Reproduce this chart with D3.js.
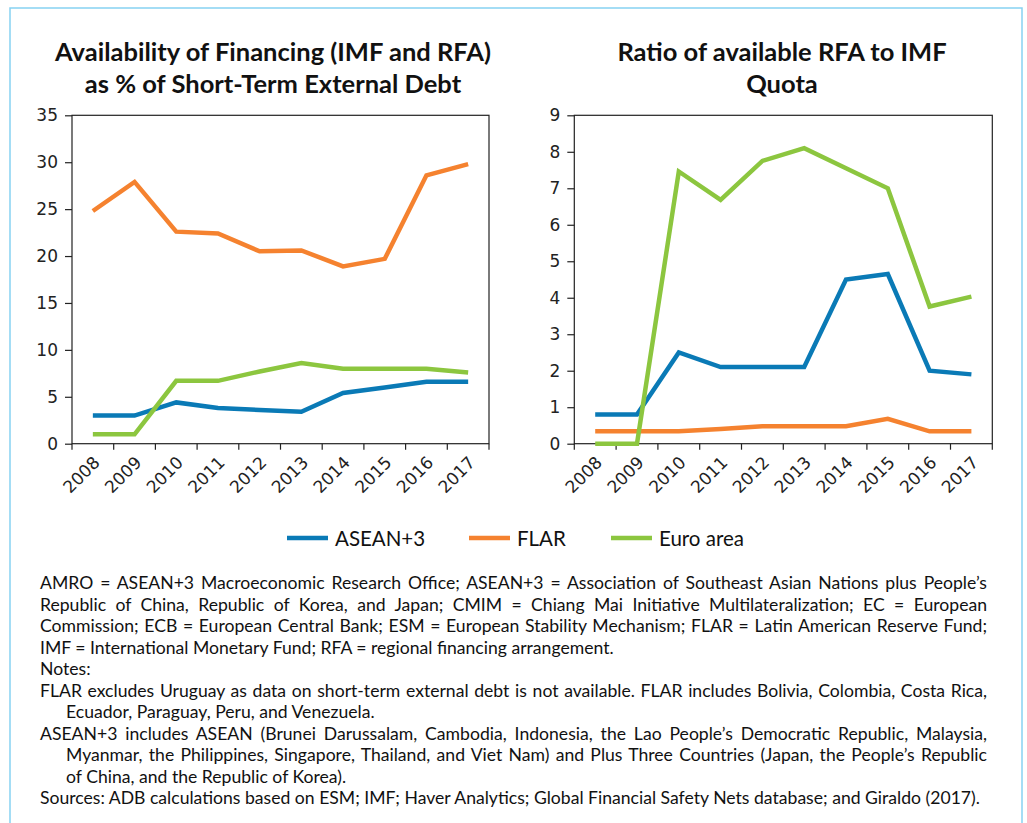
<!DOCTYPE html>
<html>
<head>
<meta charset="utf-8">
<script src="https://cdn.jsdelivr.net/npm/d3@7"></script>
<style>
  body { margin: 0; background: #fff; }
  svg { display: block; }
</style>
</head>
<body>
<script>
    // data
    const years = ['2008', '2009', '2010', '2011', '2012', '2013', '2014', '2015', '2016', '2017'];
    const seriesNames = ['ASEAN+3', 'FLAR', 'Euro area'];
    const seriesColors = ['#0a7ab6', '#f5822f', '#8cc63f'];

    const financingAsean = [3.0, 3.0, 4.4, 3.8, 3.6, 3.4, 5.4, 6.0, 6.6, 6.6];
    const financingFlar  = [24.8, 27.9, 22.6, 22.4, 20.5, 20.6, 18.9, 19.7, 28.6, 29.8];
    const financingEuro  = [1.0, 1.0, 6.7, 6.7, 7.7, 8.6, 8.0, 8.0, 8.0, 7.6];

    const ratioAsean = [0.8, 0.8, 2.5, 2.1, 2.1, 2.1, 4.5, 4.65, 2.0, 1.9];
    const ratioFlar  = [0.34, 0.34, 0.34, 0.4, 0.48, 0.48, 0.48, 0.68, 0.34, 0.34];
    const ratioEuro  = [0, 0, 7.46, 6.68, 7.75, 8.1, 7.55, 7.0, 3.76, 4.03];

    const leftTicks = [0, 5, 10, 15, 20, 25, 30, 35];
    const rightTicks = [0, 1, 2, 3, 4, 5, 6, 7, 8, 9];

    const noteLines = [
        {t: 'AMRO = ASEAN+3 Macroeconomic Research Office; ASEAN+3 = Association of Southeast Asian Nations plus People\u2019s', j: true},
        {t: 'Republic of China, Republic of Korea, and Japan; CMIM = Chiang Mai Initiative Multilateralization; EC = European', j: true},
        {t: 'Commission; ECB = European Central Bank; ESM = European Stability Mechanism; FLAR = Latin American Reserve Fund;', j: true},
        {t: 'IMF = International Monetary Fund; RFA = regional financing arrangement.'},
        {t: 'Notes:'},
        {t: 'FLAR excludes Uruguay as data on short-term external debt is not available. FLAR includes Bolivia, Colombia, Costa Rica,', j: true},
        {t: 'Ecuador, Paraguay, Peru, and Venezuela.', ind: true},
        {t: 'ASEAN+3 includes ASEAN (Brunei Darussalam, Cambodia, Indonesia, the Lao People\u2019s Democratic Republic, Malaysia,', j: true},
        {t: 'Myanmar, the Philippines, Singapore, Thailand, and Viet Nam) and Plus Three Countries (Japan, the People\u2019s Republic', j: true, ind: true},
        {t: 'of China, and the Republic of Korea).', ind: true},
        {t: 'Sources: ADB calculations based on ESM; IMF; Haver Analytics; Global Financial Safety Nets database; and Giraldo (2017).'}
    ];

    const W = 1027, H = 823;
    const humanist = 'Lato, "Open Sans", sans-serif';
    const tickFont = '"DejaVu Sans", Verdana, sans-serif';

    const svg = d3.select('body').append('svg')
        .attr('width', W)
        .attr('height', H);

    // light blue frame round everything
    svg.append('rect')
        .attr('x', 10).attr('y', 8)
        .attr('width', 1012).attr('height', 840)
        .attr('fill', 'none')
        .attr('stroke', '#86d2f2')
        .attr('stroke-width', 1.5);

    function drawPanel(p) {
        const g = svg.append('g');
        const x = d3.scaleBand().domain(years).range([p.left, p.right]);
        const y = d3.scaleLinear().domain([0, p.max]).range([p.bottom, p.top]);

        // titles
        g.selectAll('text.title')
            .data(p.title)
            .enter()
            .append('text')
            .attr('class', 'title')
            .attr('x', p.titleX)
            .attr('y', (d, i) => 61 + i * 32)
            .attr('text-anchor', 'middle')
            .attr('font-family', humanist)
            .attr('font-weight', 'bold')
            .attr('font-size', 25.5)
            .attr('fill', '#111')
            .text(d => d);

        // plot box
        g.append('rect')
            .attr('x', p.left).attr('y', p.top)
            .attr('width', p.right - p.left).attr('height', p.bottom - p.top)
            .attr('fill', 'none')
            .attr('stroke', '#222')
            .attr('stroke-width', 1.2);

        // y axis
        const yAxis = g.append('g')
            .attr('transform', 'translate(' + p.left + ',0)')
            .call(d3.axisLeft(y).tickValues(p.ticks).tickSize(7).tickPadding(7).tickFormat(d3.format('d')));
        yAxis.select('.domain').remove();
        yAxis.selectAll('line').attr('stroke', '#222').attr('stroke-width', 1.2);
        yAxis.selectAll('text')
            .attr('font-family', tickFont)
            .attr('font-size', 17)
            .attr('fill', '#222');

        // x axis: ticks at band edges
        const edges = years.map(d => x(d)).concat([p.right]);
        g.selectAll('line.xtick')
            .data(edges)
            .enter()
            .append('line')
            .attr('class', 'xtick')
            .attr('x1', d => d).attr('x2', d => d)
            .attr('y1', p.bottom).attr('y2', p.bottom + 6)
            .attr('stroke', '#222')
            .attr('stroke-width', 1.2);

        g.selectAll('text.xlab')
            .data(years)
            .enter()
            .append('text')
            .attr('class', 'xlab')
            .attr('transform', d => 'translate(' + (x(d) + x.bandwidth() / 2 + 8) + ',' + (p.bottom + 20) + ') rotate(-45)')
            .attr('text-anchor', 'end')
            .attr('font-family', tickFont)
            .attr('font-size', 17)
            .attr('fill', '#222')
            .text(d => d);

        // lines
        const line = d3.line()
            .x((d, i) => x(years[i]) + x.bandwidth() / 2)
            .y(d => y(d));

        g.selectAll('path.series')
            .data(p.series)
            .enter()
            .append('path')
            .attr('class', 'series')
            .attr('d', line)
            .attr('fill', 'none')
            .attr('stroke', (d, i) => seriesColors[i])
            .attr('stroke-width', 4.5);
    }

    drawPanel({
        left: 72, right: 489, top: 115.3, bottom: 443.7,
        max: 35, ticks: leftTicks,
        series: [financingAsean, financingFlar, financingEuro],
        title: ['Availability of Financing (IMF and RFA)', 'as % of Short-Term External Debt'],
        titleX: 273
    });

    drawPanel({
        left: 574.3, right: 992.3, top: 115.3, bottom: 443.7,
        max: 9, ticks: rightTicks,
        series: [ratioAsean, ratioFlar, ratioEuro],
        title: ['Ratio of available RFA to IMF', 'Quota'],
        titleX: 782
    });

    // legend
    const legendX = [287, 469, 611];
    const legend = svg.append('g');
    const items = legend.selectAll('g')
        .data(seriesNames)
        .enter()
        .append('g')
        .attr('transform', (d, i) => 'translate(' + legendX[i] + ',538)');
    items.append('line')
        .attr('x1', 0).attr('x2', 41)
        .attr('stroke', (d, i) => seriesColors[i])
        .attr('stroke-width', 4.5);
    items.append('text')
        .attr('x', 48)
        .attr('y', 7.5)
        .attr('font-family', humanist)
        .attr('font-size', 20.5)
        .attr('fill', '#111')
        .text(d => d);

    // notes, justified line by line
    const notesLeft = 40, notesRight = 987, indent = 26;
    const notes = svg.append('g');
    notes.selectAll('text')
        .data(noteLines)
        .enter()
        .append('text')
        .attr('x', d => notesLeft + (d.ind ? indent : 0))
        .attr('y', (d, i) => 589 + i * 21.5)
        .attr('font-family', humanist)
        .attr('font-size', 17.6)
        .attr('fill', '#111')
        .text(d => d.t)
        .each(function(d) {
            if (!d.j) return;
            const target = notesRight - notesLeft - (d.ind ? indent : 0);
            const natural = this.getComputedTextLength();
            const spaces = d.t.split(' ').length - 1;
            d3.select(this).attr('word-spacing', (target - natural) / spaces);
        });
</script>
</body>
</html>
